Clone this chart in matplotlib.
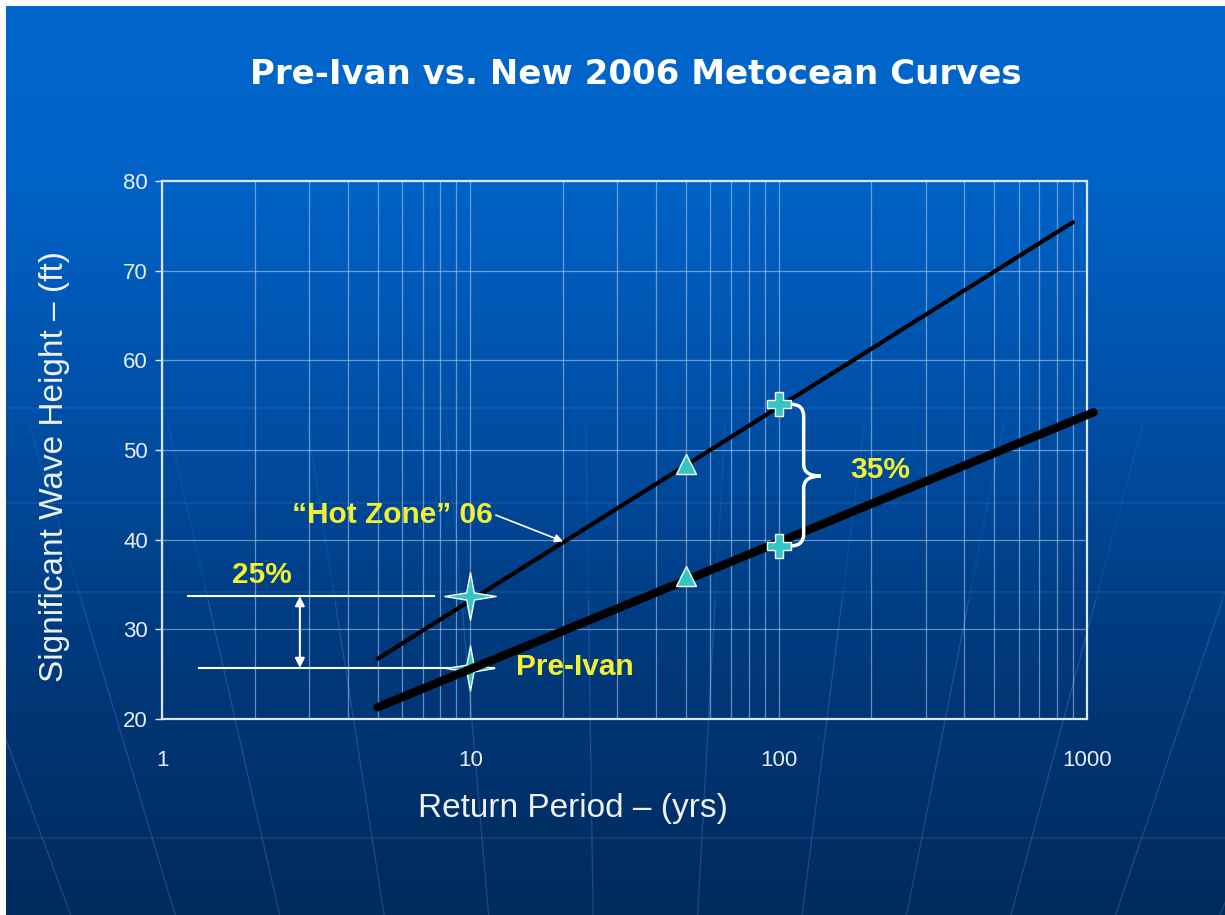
import numpy as np
import matplotlib.pyplot as plt
from matplotlib.path import Path
from matplotlib.patches import PathPatch
from matplotlib.colors import LinearSegmentedColormap
from matplotlib.transforms import IdentityTransform

# --- data ---
hot_zone_x = [5, 900]
hot_zone_y = [26.7, 75.4]
pre_ivan_x = [5, 1050]
pre_ivan_y = [21.3, 54.2]

star_x = [10, 10]
star_y = [33.7, 25.7]
tri_x = [50, 50]
tri_y = [48.4, 36.0]
cross_x = [100, 100]
cross_y = [55.1, 39.3]

x_ticks = [1, 10, 100, 1000]
y_ticks = [20, 30, 40, 50, 60, 70, 80]

W, H = 1225, 915
yellow = "#f2f230"
cyan = "#33c4c4"

fig = plt.figure(figsize=(W / 100, H / 100), dpi=100, facecolor="white")

# background: blue gradient with faint globe lines
bg = fig.add_axes([6 / W, 0, 1 - 6 / W, 1 - 6 / H])
cmap = LinearSegmentedColormap.from_list(
    "slide", [(0, "#0066cc"), (0.2, "#0062c6"), (0.45, "#004fa6"),
              (0.7, "#003a7e"), (1, "#002a5c")])
grad = np.linspace(0, 1, 256).reshape(-1, 1)
bg.imshow(grad, cmap=cmap, aspect="auto", extent=[0, W, H, 0])
pole = 2400
for xb in np.arange(-250, 1500, 105):
    def xat(y):
        return 612 + (xb - 612) * (pole - y) / (pole - H)
    bg.plot([xat(600), xat(H)], [600, H], color="#7fb4ff", lw=0.9, alpha=0.22)
    bg.plot([xat(420), xat(600)], [420, 600], color="#7fb4ff", lw=0.9,
            alpha=0.1)
for yl in [405, 500, 590, 837]:
    bg.axhline(yl, color="#7fb4ff", lw=1.2, alpha=0.12)
bg.set_xlim(0, W)
bg.set_ylim(H, 0)
bg.axis("off")

# main chart
ax = fig.add_axes([162 / W, 1 - 719 / H, 925 / W, 538 / H])
ax.patch.set_alpha(0)
ax.set_xscale("log")
ax.set_xlim(1, 1000)
ax.set_ylim(20, 80)
ax.set_xticks(x_ticks)
ax.set_xticklabels([str(v) for v in x_ticks])
ax.set_yticks(y_ticks)
ax.tick_params(axis="x", which="both", length=0, pad=22, labelsize=16,
               labelcolor="#e8eef8")
ax.tick_params(axis="y", length=5, width=1, color="#dfe8f5", pad=5,
               labelsize=16, labelcolor="#e8eef8")
for lab in ax.get_xticklabels() + ax.get_yticklabels():
    lab.set_family("Liberation Sans")
ax.grid(True, which="both", color="#cfe0ff", lw=0.9, alpha=0.5)
for s in ax.spines.values():
    s.set_color("#d8e6f8")
    s.set_linewidth(1.6)

# curves
ax.plot(hot_zone_x, hot_zone_y, color="black", lw=3, solid_capstyle="round",
        zorder=3)
ax.plot(pre_ivan_x, pre_ivan_y, color="black", lw=6, solid_capstyle="round",
        zorder=3, clip_on=False)

# 25% reference lines and arrow
ax.plot([1.21, 7.6], [star_y[0]] * 2, color="white", lw=1.5, zorder=2)
ax.plot([1.32, 11.9], [star_y[1]] * 2, color="white", lw=1.5, zorder=2)
ax.annotate("", xy=(2.8, star_y[0]), xytext=(2.8, star_y[1]),
            arrowprops=dict(arrowstyle="<|-|>", color="white", lw=1.5,
                            mutation_scale=14, shrinkA=0, shrinkB=0))

# markers
star = Path([(0, 1), (0.16, 0.15), (1.08, 0), (0.16, -0.15), (0, -1),
             (-0.16, -0.15), (-1.08, 0), (-0.16, 0.15), (0, 1)],
            [Path.MOVETO] + [Path.LINETO] * 7 + [Path.CLOSEPOLY])
ax.plot(star_x[:1], star_y[:1], marker=star, ms=37, mfc=cyan, mec="white",
        mew=1, ls="none", zorder=5)
ax.plot(star_x[1:], star_y[1:], marker=star, ms=35, mfc=cyan, mec="white",
        mew=1, ls="none", zorder=2)
ax.plot(tri_x, tri_y, marker="^", ms=15, mfc=cyan, mec="white", mew=1,
        ls="none", zorder=5)
ax.plot(cross_x, cross_y, marker="P", ms=17, mfc=cyan, mec="white", mew=1,
        ls="none", zorder=5)

# annotations
txt = dict(color=yellow, fontsize=21.5, fontweight="bold",
           family="Liberation Sans", ha="center", va="center", zorder=6)
ax.text(2.11, 36.1, "25%", **txt)
ax.text(21.8, 25.8, "Pre-Ivan", **txt)
ax.text(214, 47.8, "35%", **txt)
ax.annotate("\u201cHot Zone\u201d 06", xy=(20, 39.8), xytext=(5.6, 42.7),
            arrowprops=dict(arrowstyle="-|>", color="white", lw=1.2,
                            mutation_scale=12, shrinkA=0, shrinkB=0,
                            relpos=(1, 0.55)),
            **txt)

# brace between the two 100-yr values
fig.canvas.draw()
px, top = ax.transData.transform((cross_x[0], cross_y[0]))
_, bot = ax.transData.transform((cross_x[1], cross_y[1]))
mid = (top + bot) / 2 - 1
x0, xv, xt, r = px + 12, px + 25, px + 42, 12
verts = [(x0, top), (xv, top), (xv, top - r),
         (xv, mid + r), (xv, mid), (xt, mid),
         (xv, mid), (xv, mid - r),
         (xv, bot + r), (xv, bot), (x0, bot)]
codes = [Path.MOVETO, Path.CURVE3, Path.CURVE3,
         Path.LINETO, Path.CURVE3, Path.CURVE3,
         Path.CURVE3, Path.CURVE3,
         Path.LINETO, Path.CURVE3, Path.CURVE3]
fig.add_artist(PathPatch(Path(verts, codes), transform=IdentityTransform(),
                         fc="none", ec="white", lw=2.5, zorder=6))

# titles and axis labels
fig.text(636 / W, 1 - 75 / H, "Pre-Ivan vs. New 2006 Metocean Curves",
         color="white", fontsize=24.5, fontweight="bold", family="DejaVu Sans",
         ha="center", va="center")
fig.text(573 / W, 1 - 808 / H, "Return Period \u2013 (yrs)", color="#eef2f8",
         fontsize=24, family="Liberation Sans", ha="center", va="center")
fig.text(55 / W, 1 - 466 / H, "Significant Wave Height \u2013 (ft)",
         color="#eef2f8", fontsize=24, family="Liberation Sans",
         rotation=90, ha="center", va="center")

fig.savefig("out.png", dpi=100, facecolor="white")
